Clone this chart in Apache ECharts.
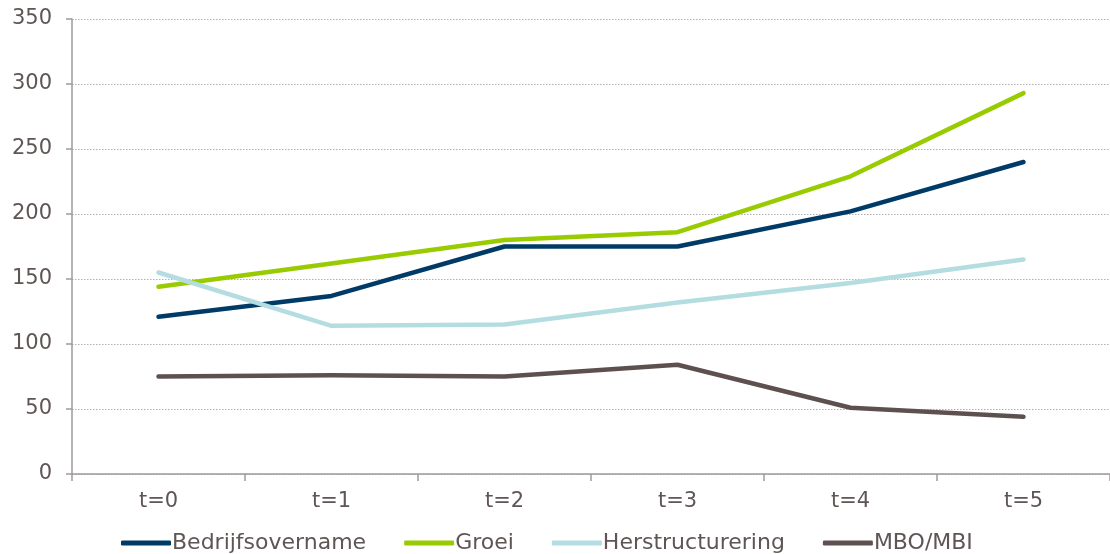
<!DOCTYPE html>
<html>
<head>
<meta charset="utf-8">
<script src="https://cdn.jsdelivr.net/npm/echarts@6/dist/echarts.min.js"></script>
<style>
  html, body { margin: 0; padding: 0; background: #fff; }
  #main { width: 1110px; height: 554px; }
</style>
</head>
<body>
<div id="main"></div>
<script>
var categories = ['t=0', 't=1', 't=2', 't=3', 't=4', 't=5'];
var bedrijfsovername = [121, 137, 175, 175, 202, 240];
var groei = [144, 162, 180, 186, 229, 293];
var herstructurering = [155, 114, 115, 132, 147, 165];
var mboMbi = [75, 76, 75, 84, 51, 44];

var textColor = '#5f5555';
var axisColor = '#a09a9a';

var myChart = echarts.init(document.getElementById('main'));

function makeLine(name, data, color) {
  return {
    name: name,
    type: 'line',
    data: data,
    symbol: 'none',
    lineStyle: { color: color, width: 4.5, cap: 'round', join: 'round' },
    itemStyle: { color: color }
  };
}

var option = {
  animation: false,
  textStyle: { fontFamily: 'DejaVu Sans', color: textColor },
  grid: { left: 72, right: -6, top: 19, bottom: 80 },
  legend: {
    bottom: -5,
    left: 116,
    itemWidth: 50,
    itemHeight: 5,
    itemGap: 38,
    icon: 'roundRect',
    textStyle: { fontSize: 22, color: textColor, fontFamily: 'DejaVu Sans', padding: [0, 0, 0, -4] },
    data: ['Bedrijfsovername', 'Groei', 'Herstructurering', 'MBO/MBI']
  },
  xAxis: {
    type: 'category',
    data: categories,
    boundaryGap: true,
    axisLine: { lineStyle: { color: axisColor, width: 1.5 } },
    axisTick: { show: true, length: 7, lineStyle: { color: axisColor, width: 1.5 } },
    axisLabel: { fontSize: 21, color: textColor, margin: 17 },
    splitLine: { show: false }
  },
  yAxis: {
    type: 'value',
    min: 0,
    max: 350,
    interval: 50,
    axisLine: { show: true, lineStyle: { color: axisColor, width: 1.5 } },
    axisTick: { show: true, length: 6, lineStyle: { color: axisColor, width: 1.5 } },
    axisLabel: { fontSize: 21, color: textColor, margin: 20 },
    splitLine: { show: true, lineStyle: { color: '#b0b0b0', type: [1.5, 1.5], width: 1 } }
  },
  series: [
    makeLine('Bedrijfsovername', bedrijfsovername, '#003b67'),
    makeLine('Groei', groei, '#99cc00'),
    makeLine('Herstructurering', herstructurering, '#b4dde1'),
    makeLine('MBO/MBI', mboMbi, '#5f5050')
  ]
};

myChart.setOption(option);
</script>
</body>
</html>
